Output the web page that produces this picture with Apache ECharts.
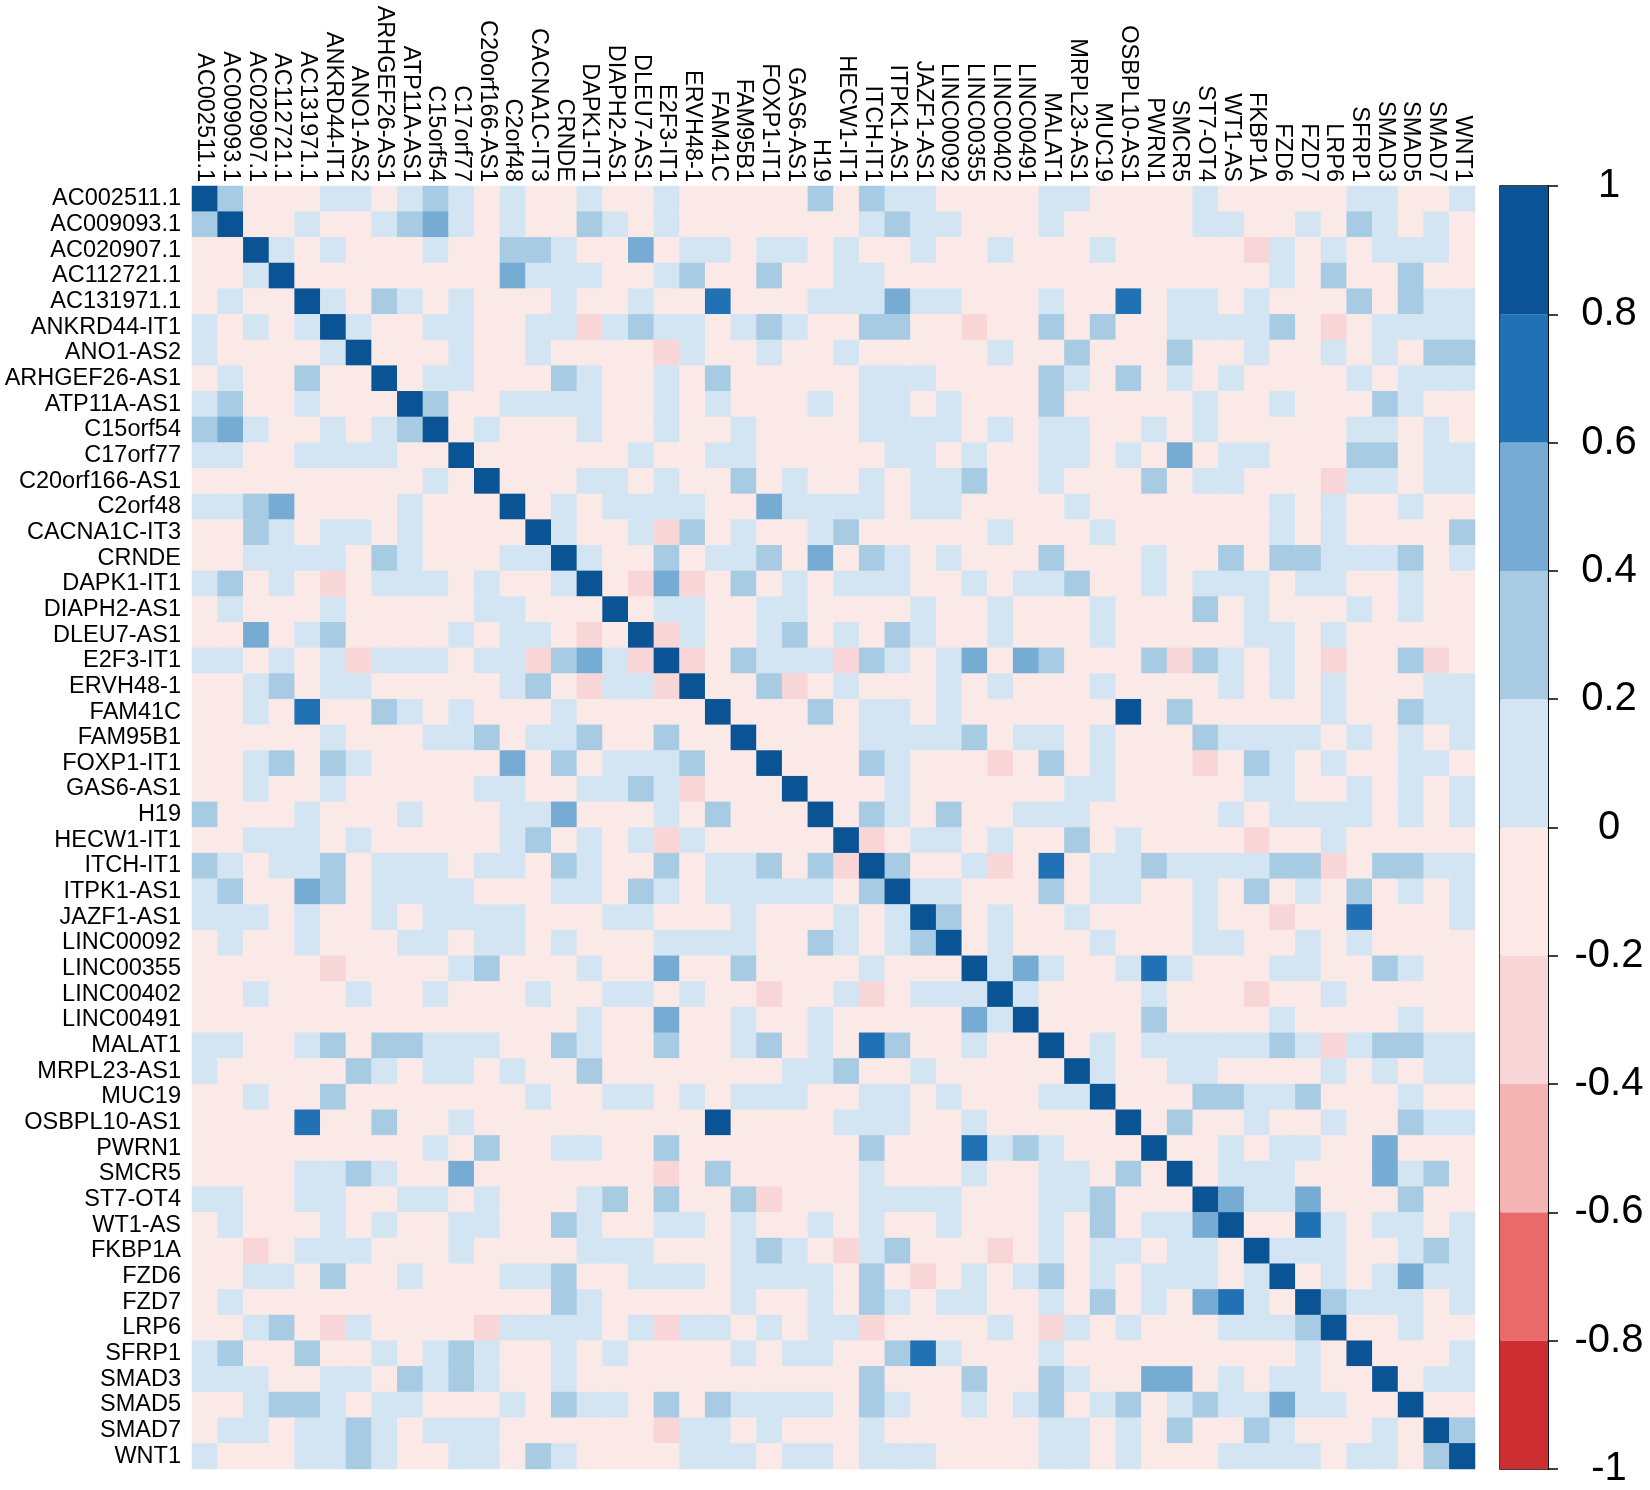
<!DOCTYPE html>
<html>
<head>
<meta charset="utf-8">
<script src="https://cdn.jsdelivr.net/npm/echarts@6/dist/echarts.min.js"></script>
<style>
  html, body { margin: 0; padding: 0; background: #fff; }
  #heat { width: 1650px; height: 1490px; }
</style>
</head>
<body>
<div id="heat"></div>
<script>
// genes, same order on both axes
const genes = [
  "AC002511.1", "AC009093.1", "AC020907.1", "AC112721.1", "AC131971.1",
  "ANKRD44-IT1", "ANO1-AS2", "ARHGEF26-AS1", "ATP11A-AS1", "C15orf54",
  "C17orf77", "C20orf166-AS1", "C2orf48", "CACNA1C-IT3", "CRNDE",
  "DAPK1-IT1", "DIAPH2-AS1", "DLEU7-AS1", "E2F3-IT1", "ERVH48-1",
  "FAM41C", "FAM95B1", "FOXP1-IT1", "GAS6-AS1", "H19",
  "HECW1-IT1", "ITCH-IT1", "ITPK1-AS1", "JAZF1-AS1", "LINC00092",
  "LINC00355", "LINC00402", "LINC00491", "MALAT1", "MRPL23-AS1",
  "MUC19", "OSBPL10-AS1", "PWRN1", "SMCR5", "ST7-OT4",
  "WT1-AS", "FKBP1A", "FZD6", "FZD7", "LRP6",
  "SFRP1", "SMAD3", "SMAD5", "SMAD7", "WNT1"
];

// correlation, lower triangle (row i has cols 0..i)
// one char per cell: '-' -0.3, '.' -0.1, '1' 0.1, '3' 0.3, '5' 0.5, '7' 0.7, '9' 0.9, 'X' 1
const levelValue = { "-": -0.3, ".": -0.1, "1": 0.1, "3": 0.3, "5": 0.5, "7": 0.7, "9": 0.9, "X": 1 };
const lowerRows = [
  "X",
  "3X",
  "..X",
  "..1X",
  ".1..X",
  "1.1.1X",
  "1....1X",
  ".1..3..X",
  "13..1...X",
  "351..1.13X",
  "11..1111..X",
  ".........1.X",
  "1135....1...X",
  "..31.11.1....X",
  "..1111.31...11X",
  "13.1.-.111.1..1X",
  ".1...1.....11...X",
  "..5.13....1.11.-.X",
  "11.1.1-111.11-351-X",
  "..13.11.....13.-11-X",
  "..1.7..31.1...1.....X",
  ".....1...113.113..3..X",
  "..13.31.....5.3.1113..X",
  "..1..1.....11..1131-...X",
  "3...1...1...115...1.3...X",
  "..111.1.....13.1.1-1.....X",
  "31.113.111.11" + ".31..3.113.3-" + "X",
  "13..53.1111.." + ".11.31.11111." + "3X",
  "111.1..1.1111" + "...11...1...1" + ".1X",
  ".1..1...11.11" + ".1...1111..31" + ".13X",
  ".....-....13." + "..1..5..3...." + "1...X",
  "..1...1..1..." + "1..11.1..-..1" + "-.111X",
  "............." + "..1..5..1..1." + "....51X",
  "11..13.33111." + ".31..3..13.1." + "73..1..X",
  "1.....31.11.1" + "..3.......113" + "..1....." + "X",
  "..1..3......." + "1..11.1.111.." + "11.1...11" + "X",
  "....7..3..1.." + ".......9....1" + "11..1....." + "X",
  ".........1.3." + ".11..3......." + "3...7131..." + "X",
  "....1131..5.." + ".....-.3....." + "1...1..11.3." + "X",
  "11..11..11.1." + "..13.3..3-..." + "1111...113..." + "X",
  ".1...1.1..11." + ".31..11.1..1." + "1..1...1.3.11" + "5X",
  "..-.111...1.." + "..111...131.-" + "13...-.1.11.1" + "1.X",
  "..11.3..1...1" + "13..111.1111." + "3.-.1.13.1.11" + "1.1X",
  ".1..........." + ".31.....1..1." + "31.11..1.3.1." + "571.X",
  "..13.-1....-1" + "111.1-11.1.11" + "-....1.-1.1.." + ".1113X",
  "13..3..1.131." + ".1.1....1.11." + ".371...1....." + "....1.X",
  "111..11.3131." + ".1..........." + "3...3..31..55" + ".1.11..X",
  "..1331.11...1" + ".311.3.31111." + "31..1.13.13.1" + "311511..X",
  ".11.1131.111." + ".....-11.1..." + "1......11.1.3" + "..31...1.X",
  "1...1131..11." + "31....111.11." + "111....11.1.." + ".1111.11.3X"
];

// colour scale: 10 bins from -1 to 1
const breaks = [-1, -0.8, -0.6, -0.4, -0.2, 0, 0.2, 0.4, 0.6, 0.8, 1];
const binColors = [
  "#cc2e31", "#e96a6b", "#f3b4b4", "#f8d6d7", "#fbe9e8",
  "#d3e5f2", "#a6cbe3", "#76acd4", "#2171b5", "#0a5394"
];

// build the full symmetric matrix
const cells = [];
lowerRows.forEach((row, i) => {
  if (row.length !== i + 1) console.warn("row", i, "has", row.length);
  for (let j = 0; j <= i; j++) {
    const v = levelValue[row[j]];
    cells.push([j, i, v]);
    if (j !== i) cells.push([i, j, v]);
  }
});

const pieces = binColors.map((c, k) => ({ min: breaks[k], max: breaks[k + 1], color: c }));

// colour bar as stacked bars, built outward from 0 so both signs stack right
const barSeries = pieces
  .slice()
  .sort((a, b) => Math.abs(a.min + a.max) - Math.abs(b.min + b.max))
  .map((p) => ({
    type: "bar",
    xAxisIndex: 1,
    yAxisIndex: 1,
    stack: "bar",
    barWidth: "100%",
    silent: true,
    itemStyle: { color: p.color },
    data: [+(p.max - p.min).toFixed(1) * (p.min < 0 ? -1 : 1)]
  }));

const font = "Liberation Sans, Arial, sans-serif";
const chart = echarts.init(document.getElementById("heat"));

chart.setOption({
  animation: false,
  backgroundColor: "#fff",
  textStyle: { fontFamily: font },
  grid: [
    { left: 192, top: 186, width: 1283, height: 1283 },
    { left: 1500, top: 186, width: 48, height: 1283, show: true,
      borderColor: "#000", borderWidth: 1.5, backgroundColor: "transparent" }
  ],
  xAxis: [
    {
      type: "category",
      data: genes,
      position: "top",
      axisLine: { show: false },
      axisTick: { show: false },
      splitLine: { show: false },
      axisLabel: { rotate: 90, interval: 0, margin: 4, fontSize: 23.5, color: "#000" }
    },
    { gridIndex: 1, type: "category", data: [""], show: false }
  ],
  yAxis: [
    {
      type: "category",
      data: genes,
      inverse: true,
      axisLine: { show: false },
      axisTick: { show: false },
      splitLine: { show: false },
      axisLabel: { interval: 0, margin: 11, fontSize: 23.5, color: "#000" }
    },
    {
      gridIndex: 1,
      type: "value",
      position: "right",
      min: -1,
      max: 1,
      interval: 0.2,
      splitLine: { show: false },
      axisLine: { show: true, lineStyle: { color: "#000", width: 1.5 } },
      axisTick: { show: true, length: 10, lineStyle: { color: "#000", width: 1.5 } },
      axisLabel: {
        margin: 61,
        align: "center",
        fontSize: 40,
        color: "#000",
        formatter: (v) => String(+v.toFixed(1))
      }
    }
  ],
  visualMap: {
    type: "piecewise",
    show: false,
    seriesIndex: 0,
    pieces: pieces
  },
  series: [
    {
      type: "heatmap",
      xAxisIndex: 0,
      yAxisIndex: 0,
      data: cells,
      progressive: 0,
      itemStyle: { borderWidth: 0 },
      emphasis: { disabled: true }
    }
  ].concat(barSeries)
});

window.onresize = function () {
  chart.resize();
};
</script>
</body>
</html>
